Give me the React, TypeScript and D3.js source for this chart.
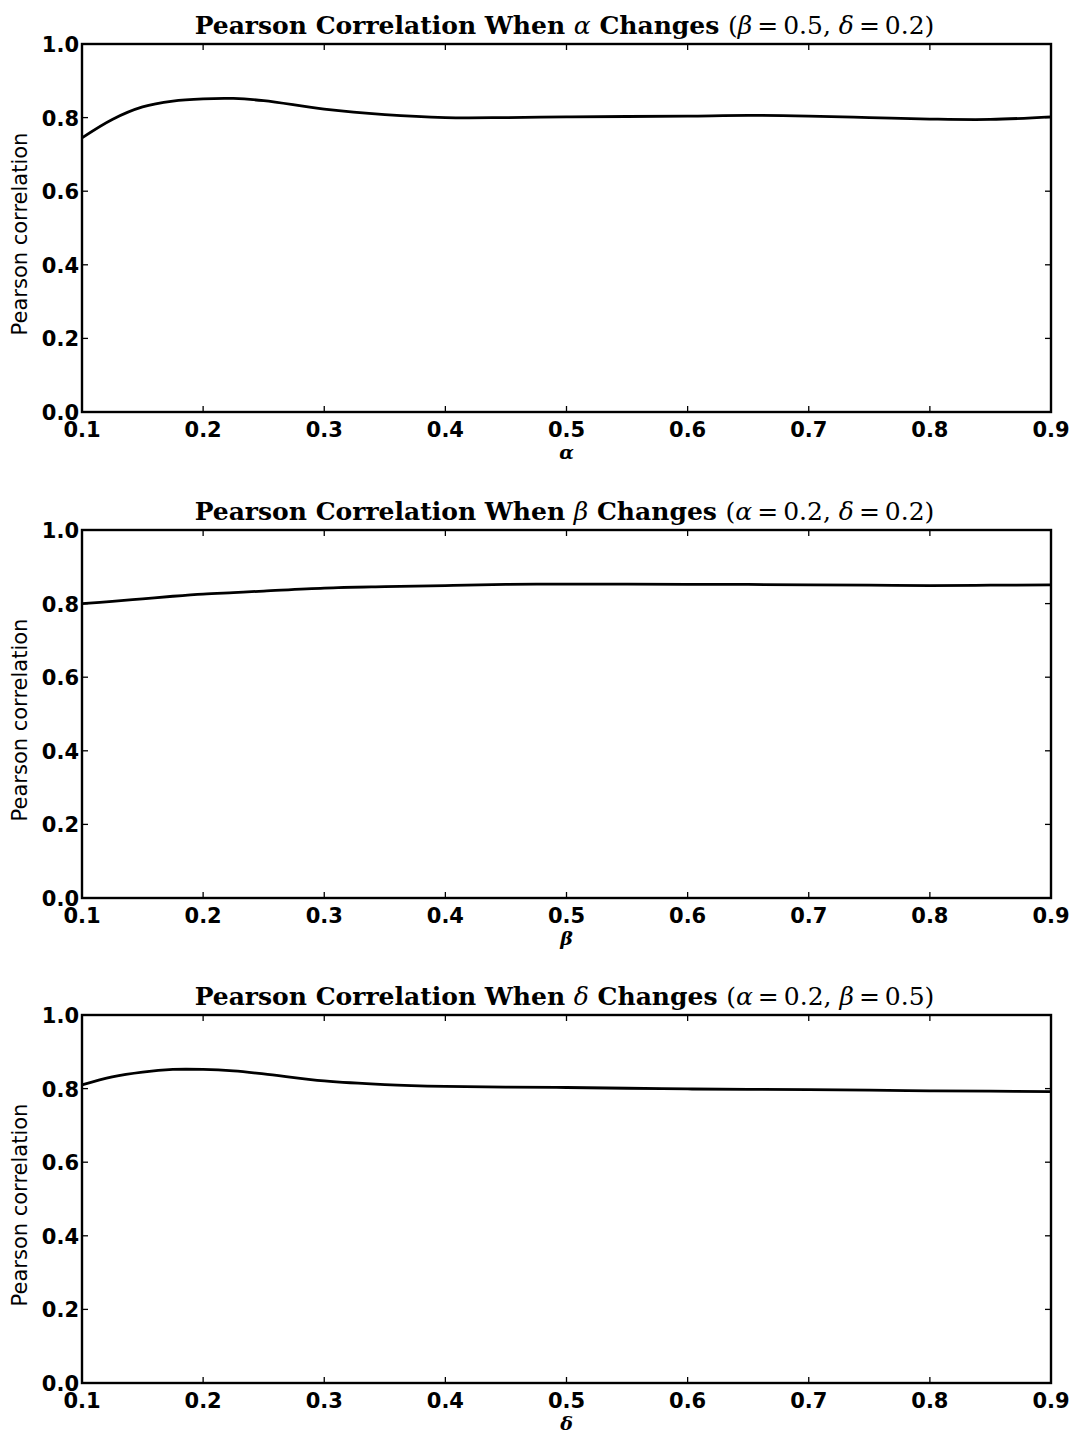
import React, { useEffect, useRef } from 'react';
import * as d3 from 'd3';

// x positions sampled along each curve
const xValues = [0.1, 0.125, 0.15, 0.175, 0.2, 0.225, 0.25, 0.3, 0.35, 0.4, 0.45, 0.5, 0.55, 0.6, 0.65, 0.7, 0.75, 0.8, 0.85, 0.9];

// Pearson correlation
const alphaSeries = [0.745, 0.795, 0.829, 0.845, 0.851, 0.852, 0.846, 0.823, 0.808, 0.800, 0.800, 0.802, 0.803, 0.804, 0.806, 0.804, 0.800, 0.796, 0.795, 0.802];
const betaSeries = [0.800, 0.806, 0.813, 0.820, 0.826, 0.830, 0.834, 0.842, 0.846, 0.849, 0.852, 0.853, 0.853, 0.852, 0.852, 0.851, 0.850, 0.849, 0.850, 0.851];
const deltaSeries = [0.810, 0.832, 0.845, 0.852, 0.852, 0.848, 0.840, 0.821, 0.811, 0.806, 0.804, 0.803, 0.801, 0.799, 0.798, 0.797, 0.796, 0.794, 0.793, 0.792];

const xTicks = [0.1, 0.2, 0.3, 0.4, 0.5, 0.6, 0.7, 0.8, 0.9];
const yTicks = [0.0, 0.2, 0.4, 0.6, 0.8, 1.0];

const panels = [
  { vary: 'α', fixed: [['β', '0.5'], ['δ', '0.2']], series: alphaSeries, top: 44 },
  { vary: 'β', fixed: [['α', '0.2'], ['δ', '0.2']], series: betaSeries, top: 530 },
  { vary: 'δ', fixed: [['α', '0.2'], ['β', '0.5']], series: deltaSeries, top: 1015 },
];

const W = 1077, H = 1434;
const left = 82, right = 1051, plotH = 368;
const tickFont = 'DejaVu Sans, sans-serif';
const titleFont = 'DejaVu Serif, serif';

const App = () => {
  const ref = useRef<SVGSVGElement>(null);

  useEffect(() => {
    const svg = d3.select(ref.current);
    svg.selectAll('*').remove();

    const x = d3.scaleLinear().domain([0.1, 0.9]).range([left, right]);

    panels.forEach(p => {
      const y = d3.scaleLinear().domain([0, 1]).range([p.top + plotH, p.top]);
      const g = svg.append('g');

      // inward ticks on all four sides
      xTicks.slice(1, -1).forEach(t => {
        g.append('line').attr('x1', x(t)).attr('x2', x(t)).attr('y1', y(0)).attr('y2', y(0) - 6)
          .attr('stroke', '#000').attr('stroke-width', 1.3);
        g.append('line').attr('x1', x(t)).attr('x2', x(t)).attr('y1', y(1)).attr('y2', y(1) + 6)
          .attr('stroke', '#000').attr('stroke-width', 1.3);
      });
      yTicks.slice(1, -1).forEach(t => {
        g.append('line').attr('x1', left).attr('x2', left + 6).attr('y1', y(t)).attr('y2', y(t))
          .attr('stroke', '#000').attr('stroke-width', 1.3);
        g.append('line').attr('x1', right).attr('x2', right - 6).attr('y1', y(t)).attr('y2', y(t))
          .attr('stroke', '#000').attr('stroke-width', 1.3);
      });

      // frame
      g.append('rect').attr('x', left).attr('y', p.top).attr('width', right - left).attr('height', plotH)
        .attr('fill', 'none').attr('stroke', '#000').attr('stroke-width', 2.4);

      // curve
      const line = d3.line<number>()
        .x((_, i) => x(xValues[i]))
        .y(d => y(d))
        .curve(d3.curveCatmullRom.alpha(0.5));
      g.append('path').datum(p.series).attr('d', line)
        .attr('fill', 'none').attr('stroke', '#000').attr('stroke-width', 2.8);

      // tick labels
      xTicks.forEach(t => {
        g.append('text').attr('x', x(t)).attr('y', y(0) + 25).attr('text-anchor', 'middle')
          .attr('font-family', tickFont).attr('font-weight', 'bold').attr('font-size', 21)
          .text(t.toFixed(1));
      });
      yTicks.forEach(t => {
        g.append('text').attr('x', left - 3).attr('y', y(t) + 8).attr('text-anchor', 'end')
          .attr('font-family', tickFont).attr('font-weight', 'bold').attr('font-size', 21)
          .text(t.toFixed(1));
      });

      // axis labels
      g.append('text').attr('transform', `translate(27,${p.top + plotH / 2 + 6}) rotate(-90)`)
        .attr('text-anchor', 'middle').attr('font-family', tickFont).attr('font-size', 21)
        .text('Pearson correlation');
      g.append('text').attr('x', (left + right) / 2).attr('y', y(0) + 47).attr('text-anchor', 'middle')
        .attr('font-family', titleFont).attr('font-style', 'italic').attr('font-weight', 'bold').attr('font-size', 19)
        .text(p.vary);

      // title
      const title = g.append('text').attr('x', (left + right) / 2 - 2).attr('y', p.top - 10)
        .attr('text-anchor', 'middle').attr('font-family', titleFont).attr('font-size', 25);
      title.append('tspan').attr('font-weight', 'bold').text('Pearson Correlation When ');
      title.append('tspan').attr('font-style', 'italic').text(p.vary);
      title.append('tspan').attr('font-weight', 'bold').text(' Changes ');
      title.append('tspan').text('(');
      title.append('tspan').attr('font-style', 'italic').text(p.fixed[0][0]);
      title.append('tspan').text(`\u2009=\u2009${p.fixed[0][1]}, `);
      title.append('tspan').attr('font-style', 'italic').text(p.fixed[1][0]);
      title.append('tspan').text(`\u2009=\u2009${p.fixed[1][1]})`);
    });
  }, []);

  return (
    <svg ref={ref} width={W} height={H} style={{ position: 'absolute', left: 0, top: 0, background: '#fff' }} />
  );
};

export default App;
